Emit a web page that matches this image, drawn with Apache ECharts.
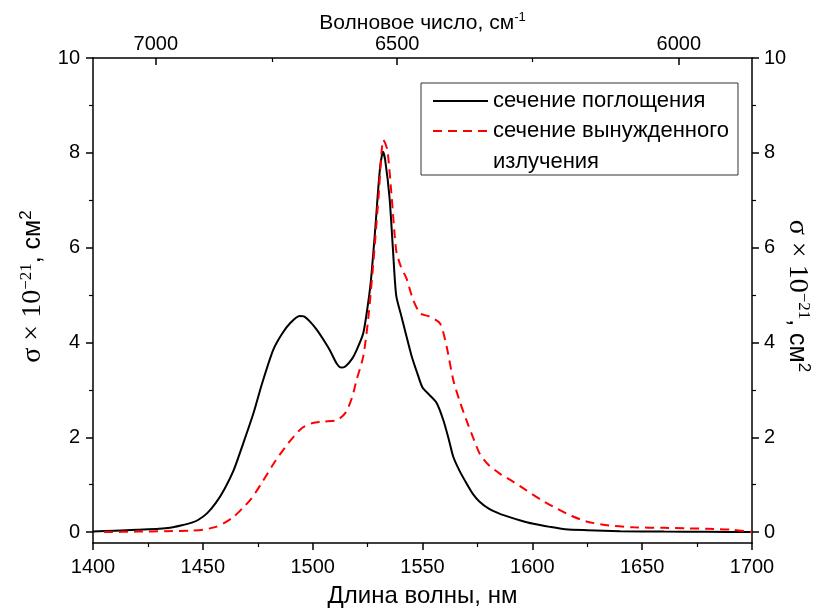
<!DOCTYPE html>
<html>
<head>
<meta charset="utf-8">
<script src="https://cdn.jsdelivr.net/npm/echarts@6/dist/echarts.min.js"></script>
<style>
  html, body { margin: 0; padding: 0; background: #fff; overflow: hidden; }
  #chart { width: 818px; height: 612px; }
</style>
</head>
<body>
<div id="chart"></div>
<script>
// Absorption cross-section (black solid)
const absWavelength = [1400, 1410, 1420, 1430, 1435, 1440, 1445, 1448, 1452, 1456, 1460, 1464, 1468, 1473, 1477, 1482, 1486, 1490, 1494, 1496, 1499, 1502, 1505, 1508, 1511, 1513, 1515, 1518, 1520, 1523, 1525, 1526.5, 1528.5, 1530.5, 1532, 1533, 1535, 1536.5, 1538, 1540, 1542, 1545, 1548, 1550, 1553, 1556.5, 1559.5, 1562, 1564, 1567, 1570, 1573, 1576, 1580, 1585, 1590, 1595, 1600, 1608, 1615, 1625, 1640, 1660, 1680, 1700];
const absSigma = [0.01, 0.03, 0.05, 0.07, 0.09, 0.14, 0.20, 0.26, 0.40, 0.62, 0.92, 1.30, 1.82, 2.50, 3.14, 3.84, 4.18, 4.42, 4.56, 4.55, 4.43, 4.26, 4.05, 3.82, 3.55, 3.47, 3.50, 3.66, 3.84, 4.19, 4.75, 5.30, 6.40, 7.60, 8.02, 7.85, 7.05, 6.00, 5.00, 4.62, 4.26, 3.72, 3.30, 3.05, 2.90, 2.72, 2.36, 1.95, 1.59, 1.28, 1.03, 0.80, 0.64, 0.50, 0.39, 0.31, 0.24, 0.18, 0.11, 0.06, 0.04, 0.02, 0.01, 0.005, 0.0];

// Stimulated emission cross-section (red dashed)
const emWavelength = [1405, 1420, 1433, 1445, 1450, 1456, 1460, 1464, 1468, 1472, 1477, 1483, 1489, 1495, 1500, 1505, 1511, 1515, 1518, 1520, 1523, 1525.3, 1527.6, 1530, 1532.2, 1534, 1536, 1538, 1540, 1542.7, 1545.8, 1549, 1553, 1558, 1561, 1564, 1567, 1570, 1573, 1576, 1580, 1585, 1591, 1597, 1604, 1611, 1618, 1625, 1635, 1646, 1660, 1670, 1680, 1691, 1700];
const emSigma = [0.0, 0.01, 0.02, 0.03, 0.05, 0.11, 0.20, 0.32, 0.50, 0.70, 1.05, 1.50, 1.88, 2.19, 2.30, 2.33, 2.36, 2.52, 2.85, 3.21, 3.70, 4.50, 5.67, 7.07, 8.27, 8.06, 7.05, 5.95, 5.62, 5.35, 4.89, 4.61, 4.55, 4.40, 3.91, 3.21, 2.75, 2.36, 2.00, 1.66, 1.42, 1.24, 1.07, 0.89, 0.68, 0.50, 0.34, 0.22, 0.14, 0.10, 0.09, 0.08, 0.07, 0.05, 0.0];

// Axis tick values
const yMajorTicks = [0, 2, 4, 6, 8, 10];
const yMinorTicks = [1, 3, 5, 7, 9];
const waveNumberMajor = [7000, 6500, 6000];
const waveNumberMinor = [6750, 6250];

const absName = 'сечение поглощения';
const emName = 'сечение вынужденного\nизлучения';

const toNm = k => 1e7 / k;
const pairs = (xs, ys) => xs.map((x, i) => [x, ys[i]]);

const FONT = '"Liberation Sans", Arial, sans-serif';
const SERIF = '"Liberation Serif", "Times New Roman", serif';
const axisColor = '#000';
const tickFont = { fontFamily: FONT, fontSize: 20, color: '#000' };

const sigmaRich = {
  s: { fontFamily: SERIF, fontSize: 28, color: '#000', lineHeight: 30 },
  e: { fontFamily: SERIF, fontSize: 17, color: '#000', verticalAlign: 'top', lineHeight: 30 },
  t: { fontFamily: FONT, fontSize: 25, color: '#000', lineHeight: 30 },
  q: { fontFamily: FONT, fontSize: 17, color: '#000', verticalAlign: 'top', lineHeight: 30 }
};
const sigmaName = '{s|σ × 10}{e|−21}{t|, см}{q|2}';

function yAxisBase(pos) {
  return {
    type: 'value', position: pos, min: -0.23, max: 10,
    nameMoveOverlap: false,
    splitLine: { show: false },
    axisLine: { show: true, onZero: false, lineStyle: { color: axisColor, width: 1.5 } }
  };
}

const chart = echarts.init(document.getElementById('chart'), null, { renderer: 'canvas' });

chart.setOption({
  backgroundColor: '#fff',
  animation: false,
  grid: { left: 93, right: 66, top: 58, bottom: 69, containLabel: false, outerBoundsMode: 'none' },
  legend: {
    orient: 'vertical',
    left: 421, top: 83,
    padding: [1.5, 9, -2.5, 11],
    borderColor: '#333', borderWidth: 1,
    itemWidth: 55, itemHeight: 14, itemGap: -32,
    itemStyle: { color: 'rgba(0,0,0,0)', borderColor: 'rgba(0,0,0,0)', borderWidth: 0 },
    textStyle: { fontFamily: FONT, fontSize: 22, color: '#000', lineHeight: 31 },
    // a wrapped name gets an empty leading line so its first line sits beside the icon
    formatter: name => (name.indexOf('\n') >= 0 ? '\n' + name : name),
    data: [absName, emName]
  },
  xAxis: [
    {
      type: 'value', position: 'bottom', min: 1400, max: 1700, interval: 50,
      name: 'Длина волны, нм', nameLocation: 'middle', nameGap: 41, nameMoveOverlap: false,
      nameTextStyle: { fontFamily: FONT, fontSize: 24, color: '#000' },
      splitLine: { show: false },
      axisLine: { show: true, onZero: false, lineStyle: { color: axisColor, width: 1.5 } },
      axisTick: { show: true, inside: false, length: 7, lineStyle: { color: axisColor, width: 1.5 } },
      minorTick: { show: true, splitNumber: 2, length: 4, lineStyle: { color: axisColor, width: 1.2 } },
      axisLabel: Object.assign({ margin: 14, formatter: v => String(v) }, tickFont)
    },
    {
      type: 'value', position: 'top', min: 1400, max: 1700,
      name: '{a|Волновое число, см}{b|-1}', nameLocation: 'middle', nameGap: 23, nameMoveOverlap: false,
      nameTextStyle: { rich: {
        a: { fontFamily: FONT, fontSize: 21, color: '#000', lineHeight: 24 },
        b: { fontFamily: FONT, fontSize: 13, color: '#000', verticalAlign: 'top', lineHeight: 24 }
      } },
      splitLine: { show: false },
      axisLine: { show: true, onZero: false, lineStyle: { color: axisColor, width: 1.5 } },
      axisTick: { show: true, inside: true, length: 7, customValues: waveNumberMajor.map(toNm), lineStyle: { color: axisColor, width: 1.5 } },
      axisLabel: Object.assign({ margin: 4,
        customValues: waveNumberMajor.map(toNm),
        formatter: v => String(Math.round(1e7 / v)) }, tickFont)
    },
    {
      type: 'value', position: 'top', min: 1400, max: 1700,
      splitLine: { show: false },
      axisLine: { show: false, onZero: false },
      axisTick: { show: true, inside: true, length: 4, customValues: waveNumberMinor.map(toNm), lineStyle: { color: axisColor, width: 1.2 } },
      axisLabel: { show: false }
    }
  ],
  yAxis: [
    Object.assign(yAxisBase('left'), {
      name: sigmaName, nameLocation: 'middle', nameGap: 45,
      nameTextStyle: { rich: sigmaRich, padding: [0, 0, 0, 28] },
      axisTick: { show: true, length: 7, customValues: yMajorTicks, lineStyle: { color: axisColor, width: 1.5 } },
      axisLabel: Object.assign({ margin: 13, customValues: yMajorTicks }, tickFont)
    }),
    Object.assign(yAxisBase('left'), {
      axisLine: { show: false, onZero: false },
      axisTick: { show: true, length: 4, customValues: yMinorTicks, lineStyle: { color: axisColor, width: 1.2 } },
      axisLabel: { show: false }
    }),
    Object.assign(yAxisBase('right'), {
      name: sigmaName, nameLocation: 'middle', nameGap: 30, nameRotate: -90,
      nameTextStyle: { rich: sigmaRich, padding: [0, 9, 0, 0] },
      axisTick: { show: true, length: 7, customValues: yMajorTicks, lineStyle: { color: axisColor, width: 1.5 } },
      axisLabel: Object.assign({ margin: 12, customValues: yMajorTicks }, tickFont)
    }),
    Object.assign(yAxisBase('right'), {
      axisLine: { show: false, onZero: false },
      axisTick: { show: true, length: 4, customValues: yMinorTicks, lineStyle: { color: axisColor, width: 1.2 } },
      axisLabel: { show: false }
    })
  ],
  series: [
    {
      name: absName, type: 'line', xAxisIndex: 0, yAxisIndex: 0,
      data: pairs(absWavelength, absSigma),
      showSymbol: false, symbol: 'none', smooth: 0.25,
      lineStyle: { color: '#000', width: 2 },
      itemStyle: { color: '#000' }
    },
    {
      name: emName, type: 'line', xAxisIndex: 0, yAxisIndex: 0,
      data: pairs(emWavelength, emSigma),
      showSymbol: false, symbol: 'none', smooth: 0.25,
      lineStyle: { color: '#ff0000', width: 2, type: [9, 6] },
      itemStyle: { color: '#ff0000' }
    }
  ]
});
</script>
</body>
</html>
